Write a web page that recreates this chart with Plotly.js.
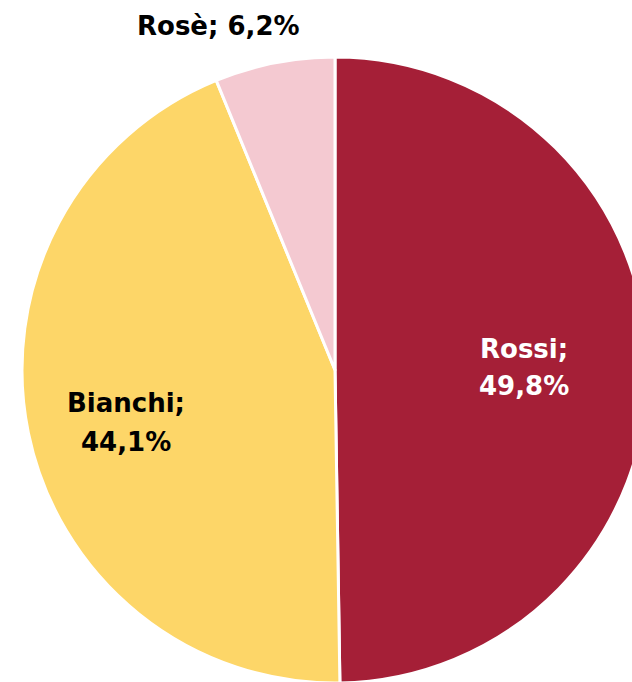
<!DOCTYPE html>
<html>
<head>
<meta charset="utf-8">
<script src="https://cdn.plot.ly/plotly-3.0.1.min.js"></script>
<style>
html, body { margin: 0; padding: 0; overflow: hidden; background: #fff; }
#chart { width: 680px; height: 700px; }
</style>
</head>
<body>
<div id="chart"></div>
<script>
const labels = ["Rossi", "Bianchi", "Rosè"];
const values = [49.8, 44.1, 6.2];
const colors = ["#A51F37", "#FDD668", "#F4C9D1"];

const W = 680, H = 700;
const fmt = v => v.toFixed(1).replace('.', ',') + '%';

// label placements in pixels (layout only)
const labelPos = [
  { lines: 2, x: 524, y: [349, 386], color: "#FFFFFF" },
  { lines: 2, x: 126, y: [403, 442], color: "#000000" },
  { lines: 1, x: 218, y: [26], color: "#000000" }
];

const annotations = [];
labels.forEach((lab, i) => {
  const p = labelPos[i];
  const texts = p.lines === 2 ? [lab + ';', fmt(values[i])] : [lab + '; ' + fmt(values[i])];
  texts.forEach((t, k) => {
    annotations.push({
      text: '<b>' + t + '</b>',
      x: p.x / W, y: 1 - p.y[k] / H,
      xref: 'paper', yref: 'paper',
      xanchor: 'center', yanchor: 'middle',
      showarrow: false,
      font: { family: 'DejaVu Sans', size: 26, color: p.color }
    });
  });
});

const trace = {
  type: 'pie',
  labels: labels,
  values: values,
  sort: false,
  direction: 'clockwise',
  rotation: 0,
  textinfo: 'none',
  hoverinfo: 'label+percent',
  marker: { colors: colors, line: { color: '#FFFFFF', width: 3 } },
  domain: { x: [(335 - 313) / W, (335 + 313) / W], y: [(H - 370 - 313) / H, (H - 370 + 313) / H] }
};

Plotly.newPlot('chart', [trace], {
  width: W, height: H,
  margin: { l: 0, r: 0, t: 0, b: 0 },
  showlegend: false,
  paper_bgcolor: '#FFFFFF',
  annotations: annotations
}, { displayModeBar: false, staticPlot: true });
</script>
</body>
</html>
